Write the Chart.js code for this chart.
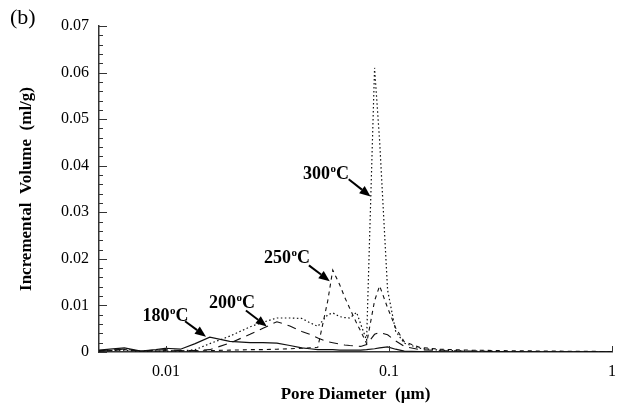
<!DOCTYPE html>
<html>
<head>
<meta charset="utf-8">
<script src="https://cdn.jsdelivr.net/npm/chart.js@4"></script>
<style>
  html, body { margin: 0; padding: 0; background: #fff; }
</style>
</head>
<body>
<canvas id="c" width="626" height="408"></canvas>
<script>
// Incremental pore volume vs pore diameter, four calcination temperatures.
// Values (ml/g), shared diameter grid (um).
var poreDiameter = [0.005, 0.0056, 0.0065, 0.0077, 0.009, 0.0099, 0.0116, 0.0135, 0.0157, 0.0193,
  0.0238, 0.0272, 0.0314, 0.0359, 0.0406, 0.0441, 0.0479, 0.0531, 0.0559, 0.0600,
  0.0632, 0.0666, 0.0715, 0.0746, 0.0793, 0.0861, 0.0907, 0.0985, 0.107, 0.117,
  0.137, 0.168, 0.229, 0.312, 0.52, 1.0];
var vol180 = [0.0004, 0.0006, 0.0009, 0.0002, 0.0005, 0.0008, 0.0006, 0.0018, 0.0032, 0.0023,
  0.0020, 0.0020, 0.0019, 0.0014, 0.0009, 0.0007, 0.0005, 0.0005, 0.0005, 0.0004,
  0.0004, 0.0004, 0.0004, 0.0004, 0.0005, 0.0007, 0.0009, 0.0011, 0.0006, 0.0002,
  0.0001, 0, 0, 0, 0, 0];
var vol200 = [0.0003, 0.0004, 0.0006, 0.0002, 0.0004, 0.0005, 0.0003, 0.0003, 0.0005, 0.0019,
  0.0038, 0.0051, 0.0065, 0.0056, 0.0044, 0.0038, 0.0030, 0.0022, 0.0020, 0.0017,
  0.0015, 0.0014, 0.0013, 0.0012, 0.0016, 0.0038, 0.0042, 0.0037, 0.0024, 0.0012,
  0.0005, 0.0003, 0.0002, 0.0001, 0, 0];
var vol250 = [0.0002, 0.0003, 0.0005, 0.0002, 0.0002, 0.0003, 0.0002, 0.0002, 0.0003, 0.0004,
  0.0005, 0.0005, 0.0006, 0.0007, 0.0008, 0.0009, 0.0010, 0.0110, 0.0176, 0.0145,
  0.0118, 0.0094, 0.0062, 0.0045, 0.0018, 0.0110, 0.0142, 0.0095, 0.0052, 0.0022,
  0.0010, 0.0006, 0.0004, 0.0003, 0.0002, 0.0001];
var vol300 = [0.0002, 0.0003, 0.0004, 0.0001, 0.0002, 0.0002, 0.0002, 0.0005, 0.0018, 0.0034,
  0.0054, 0.0064, 0.0073, 0.0073, 0.0072, 0.0063, 0.0055, 0.0080, 0.0084, 0.0076,
  0.0074, 0.0073, 0.0085, 0.0060, 0.0025, 0.0610, 0.0454, 0.0133, 0.0045, 0.0019,
  0.0008, 0.0004, 0.0002, 0.0001, 0, 0];
var seriesLabels = ['180', '200', '250', '300'];
var xTickValues = [0.01, 0.1, 1];

var SERIF = '"Liberation Serif", "Times New Roman", serif';
var INK = '#111';

// callout layout in data coords: label centre, arrow tail, arrow tip
var callouts = [
  { text: '180', at: [0.0099, 0.0080], from: [0.01216, 0.0066], to: [0.0151, 0.0033] },
  { text: '200', at: [0.0197, 0.0108], from: [0.0228, 0.0089], to: [0.0283, 0.0055] },
  { text: '250', at: [0.0348, 0.0204], from: [0.0437, 0.0186], to: [0.0542, 0.0152] },
  { text: '300', at: [0.0520, 0.0385], from: [0.0659, 0.0371], to: [0.0826, 0.0334] },
];

function drawTemp(ctx, label, cx, cy) {
  var big = 'bold 18px ' + SERIF, small = 'bold 11px ' + SERIF;
  ctx.font = big;
  var w1 = ctx.measureText(label).width, w3 = ctx.measureText('C').width;
  ctx.font = small;
  var w2 = ctx.measureText('o').width;
  var x0 = cx - (w1 + w2 + w3) / 2, base = cy + 6;
  ctx.textAlign = 'left'; ctx.textBaseline = 'alphabetic';
  ctx.font = big; ctx.fillText(label, x0, base);
  ctx.font = small; ctx.fillText('o', x0 + w1 + 0.5, base - 7);
  ctx.font = big; ctx.fillText('C', x0 + w1 + w2 + 0.5, base);
}

function drawArrow(ctx, x0, y0, x1, y1) {
  var ang = Math.atan2(y1 - y0, x1 - x0), head = 11, half = 4.5;
  var bx = x1 - head * Math.cos(ang), by = y1 - head * Math.sin(ang);
  ctx.lineWidth = 2;
  ctx.beginPath(); ctx.moveTo(x0, y0); ctx.lineTo(bx, by); ctx.stroke();
  ctx.beginPath();
  ctx.moveTo(x1, y1);
  ctx.lineTo(bx + half * Math.sin(ang), by - half * Math.cos(ang));
  ctx.lineTo(bx - half * Math.sin(ang), by + half * Math.cos(ang));
  ctx.closePath(); ctx.fill();
}

var decorations = {
  id: 'decorations',
  afterDraw: function (chart) {
    var ctx = chart.ctx, xs = chart.scales.x, ys = chart.scales.y;
    ctx.save();
    // inward tick marks
    ctx.strokeStyle = '#333'; ctx.lineWidth = 1;
    for (var i = 0; i <= 35; i++) {
      var py = Math.round(ys.getPixelForValue(i * 0.002)) + 0.5;
      var len = (i % 5 === 0) ? 8 : 4;
      ctx.beginPath(); ctx.moveTo(xs.left, py); ctx.lineTo(xs.left + len, py); ctx.stroke();
    }
    xTickValues.forEach(function (v) {
      var px = Math.round(xs.getPixelForValue(v)) + 0.5;
      ctx.beginPath(); ctx.moveTo(px, ys.bottom); ctx.lineTo(px, ys.bottom - 6); ctx.stroke();
    });
    // callouts
    ctx.fillStyle = '#000'; ctx.strokeStyle = '#000';
    callouts.forEach(function (c) {
      drawArrow(ctx, xs.getPixelForValue(c.from[0]), ys.getPixelForValue(c.from[1]),
        xs.getPixelForValue(c.to[0]), ys.getPixelForValue(c.to[1]));
      drawTemp(ctx, c.text, xs.getPixelForValue(c.at[0]), ys.getPixelForValue(c.at[1]));
    });
    // panel tag
    ctx.font = '22px ' + SERIF; ctx.textAlign = 'left'; ctx.textBaseline = 'middle';
    ctx.fillText('(b)', 10, 18);
    ctx.restore();
  }
};

function series(values, dash, width) {
  return {
    data: poreDiameter.map(function (d, i) { return { x: d, y: values[i] }; }),
    borderColor: INK, borderWidth: width, borderDash: dash,
    pointRadius: 0, tension: 0, fill: false,
  };
}

new Chart(document.getElementById('c'), {
  type: 'line',
  data: {
    datasets: [
      Object.assign(series(vol180, [], 1.2), { label: seriesLabels[0] }),
      Object.assign(series(vol200, [9, 6], 1.1), { label: seriesLabels[1] }),
      Object.assign(series(vol250, [4, 4], 1.1), { label: seriesLabels[2] }),
      Object.assign(series(vol300, [1.5, 2.5], 1.2), { label: seriesLabels[3] }),
    ],
  },
  options: {
    responsive: false, animation: false,
    layout: { padding: { top: 26, right: 13, left: 0, bottom: 0 } },
    plugins: { legend: { display: false }, tooltip: { enabled: false } },
    scales: {
      x: {
        type: 'logarithmic', min: 0.005, max: 1,
        grid: { display: false, drawTicks: false },
        border: { display: true, color: '#333', width: 1.5 },
        afterBuildTicks: function (s) { s.ticks = xTickValues.map(function (v) { return { value: v }; }); },
        afterFit: function (s) { s.height = 56; },
        ticks: {
          autoSkip: false, maxRotation: 0, padding: 10, color: '#000',
          font: { family: SERIF, size: 16 },
          callback: function (v) { return String(v); },
        },
        title: {
          display: true, text: 'Pore Diameter  (\u00b5m)', color: '#000',
          font: { family: SERIF, size: 17, weight: 'bold' }, padding: { top: 0, bottom: 3 },
        },
      },
      y: {
        min: 0, max: 0.07,
        grid: { display: false, drawTicks: false },
        border: { display: true, color: '#333', width: 1.5 },
        afterFit: function (s) { s.width = 99; },
        ticks: {
          stepSize: 0.01, padding: 10, color: '#000',
          font: { family: SERIF, size: 16 },
          callback: function (v) { return v === 0 ? '0' : v.toFixed(2); },
        },
        title: {
          display: true, text: 'Incremental  Volume  (ml/g)', color: '#000',
          font: { family: SERIF, size: 17, weight: 'bold' }, padding: { top: 16, bottom: 0 },
        },
      },
    },
  },
  plugins: [decorations],
});
</script>
</body>
</html>
